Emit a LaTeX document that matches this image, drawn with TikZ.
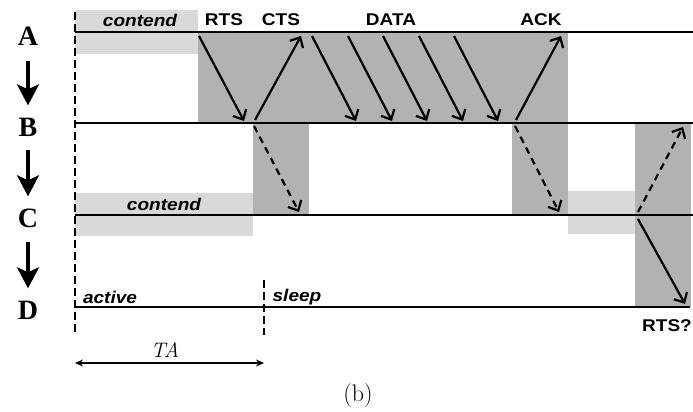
\documentclass[tikz,border=0pt]{standalone}
\usepackage{fontspec}
\newfontfamily\labelfont[FakeStretch=1.12]{Liberation Sans}
\newfontfamily\stationfont{Liberation Serif}
\usetikzlibrary{arrows.meta}
\definecolor{busy}{gray}{0.70}
\definecolor{wait}{gray}{0.85}
\begin{document}
\begin{tikzpicture}[x=1pt,y=-1pt,
  timeline/.style={line width=2.7pt},
  bound/.style={line width=2.8pt,dash pattern=on 8pt off 4pt},
  msg/.style={line width=2.2pt,-{Straight Barb[length=8pt,width=15pt]}},
  relay/.style={msg,dash pattern=on 7pt off 5pt},
  station/.style={font=\stationfont\bfseries\fontsize{28}{28}\selectfont,inner sep=0pt,text height=19pt,text depth=0pt},
  hop/.style={line width=3.2pt,-{Stealth[length=21pt,width=22pt,inset=5pt]}},
  tag/.style={font=\labelfont\bfseries\fontsize{17}{17}\selectfont,inner sep=0pt},
  phase/.style={tag,font=\labelfont\bfseries\itshape\fontsize{17}{17}\selectfont}]
\useasboundingbox (0,0) rectangle (693,412);

% contention and busy periods
\fill[wait] (75,10) rectangle (198,54);
\fill[wait] (75,193) rectangle (253,236);
\fill[wait] (568,191) rectangle (635,234);
\fill[busy] (198,32) rectangle (568,123);
\fill[busy] (253,123) rectangle (309,215);
\fill[busy] (512,123) rectangle (568,215);
\fill[busy] (635,123) rectangle (691,307);

% time lines of the four nodes
\coordinate (A0) at (75,32);  \coordinate (A1) at (693,32);
\coordinate (B0) at (75,123); \coordinate (B1) at (693,123);
\coordinate (C0) at (75,215); \coordinate (C1) at (693,215);
\coordinate (D0) at (75,307); \coordinate (D1) at (690,307);
\draw[timeline] (A0) -- (A1);
\draw[timeline] (B0) -- (B1);
\draw[timeline] (C0) -- (C1);
\draw[timeline] (D0) -- (D1);

% active period bounds
\coordinate (T0) at (75,12);   \coordinate (T0e) at (75,335);
\coordinate (T1) at (264,280); \coordinate (T1e) at (264,335);
\draw[bound] (T0) -- (T0e);
\draw[bound] (T1) -- (T1e);

% station names
\node[station] (nA) at (28,36) {A};
\node[station] (nB) at (28,127) {B};
\node[station] (nC) at (28,218) {C};
\node[station] (nD) at (28,310) {D};
\draw[hop] ([yshift=-15pt]nA.south) -- ([yshift=12pt]nB.north);
\draw[hop] ([yshift=-13pt]nB.south) -- ([yshift=12pt]nC.north);
\draw[hop] ([yshift=-14pt]nC.south) -- ([yshift=12pt]nD.north);

% RTS / CTS
\coordinate (rts0) at (199,36);  \coordinate (rts1) at (244,121);
\coordinate (cts0) at (255,120); \coordinate (cts1) at (301,36);
\draw[msg] (rts0) -- (rts1);
\draw[msg] (cts0) -- (cts1);
% DATA fragments
\foreach \i/\s in {1/312,2/348,3/383,4/419,5/454}{
  \coordinate (d\i s) at (\s,36);
  \coordinate (d\i e) at (\s+44,121);
  \draw[msg] (d\i s) -- (d\i e);
}
% ACK
\coordinate (ack0) at (516,120); \coordinate (ack1) at (561,36);
\draw[msg] (ack0) -- (ack1);
% overheard by C
\coordinate (oc0) at (254,126); \coordinate (oc1) at (299,212);
\draw[relay] (oc0) -- (oc1);
\coordinate (oa0) at (515,126); \coordinate (oa1) at (559,212);
\draw[relay] (oa0) -- (oa1);
% C forwards
\coordinate (fw0) at (638,212); \coordinate (fw1) at (683,127);
\draw[relay] (fw0) -- (fw1);
\coordinate (rq0) at (638,219); \coordinate (rq1) at (685,304);
\draw[msg] (rq0) -- (rq1);

% labels
\node[phase] (cA) at (140,20) {contend};
\node[tag] (lR) at (224,20) {RTS};
\node[tag] (lC) at (281,20) {CTS};
\node[tag] (lD) at (391,20) {DATA};
\node[tag] (lK) at (541,20) {ACK};
\node[phase] (cC) at (164,204) {contend};
\node[phase] (act) at (110,297) {active};
\node[phase] (slp) at (297,297) {sleep};
\node[tag] (lQ) at (667,326) {RTS?};

% duration of the active period
\coordinate (ta0) at (75,363); \coordinate (ta1) at (264,363);
\draw[line width=1.6pt,{Stealth[length=8pt,width=7pt]}-{Stealth[length=8pt,width=7pt]}] (ta0) -- (ta1);
\node[font=\fontsize{21}{21}\selectfont\itshape,inner sep=0pt] (ta) at (165,350) {TA};

\node[font=\fontsize{24}{24}\selectfont,inner sep=0pt] (cap) at (358,396) {(b)};
\end{tikzpicture}
\end{document}
